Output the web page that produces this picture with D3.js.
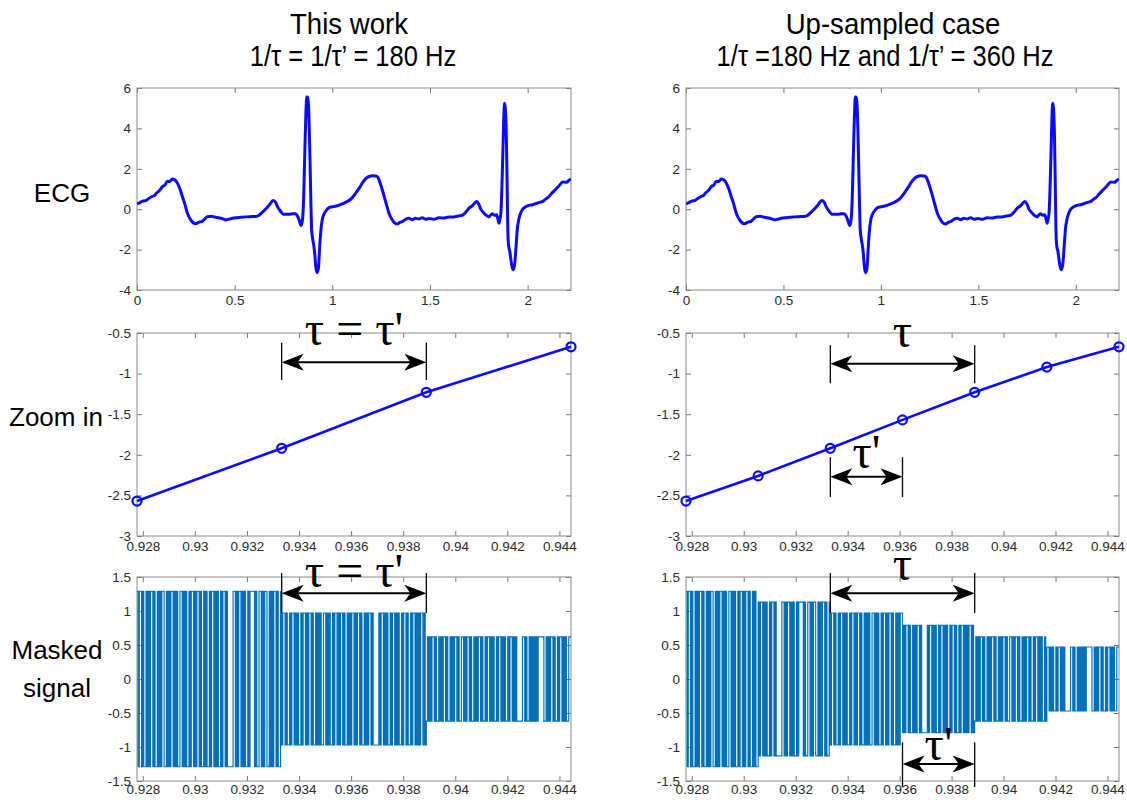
<!DOCTYPE html>
<html>
<head>
<meta charset="utf-8">
<script src="https://cdn.jsdelivr.net/npm/d3@7"></script>
<style>
  body { margin: 0; background: #fff; }
  svg { display: block; }
  .tick text { font-family: Arial, "Liberation Sans", sans-serif; font-size: 13.5px; fill: #2b2b2b; }
</style>
</head>
<body>
<svg id="chart" width="1127" height="802"></svg>
<script>
// ECG trace (time in s, amplitude)
const ecgTime = [0, 0.015, 0.03, 0.045, 0.06, 0.078, 0.09, 0.1, 0.115, 0.13, 0.143, 0.155, 0.168, 0.18, 0.195, 0.207, 0.22, 0.232, 0.245, 0.258, 0.275, 0.3, 0.318, 0.334, 0.35, 0.36, 0.38, 0.403, 0.43, 0.454, 0.48, 0.505, 0.53, 0.556, 0.58, 0.607, 0.625, 0.64, 0.66, 0.676, 0.698, 0.71, 0.718, 0.735, 0.749, 0.778, 0.8, 0.812, 0.822, 0.829, 0.841, 0.848, 0.852, 0.856, 0.86, 0.865, 0.869, 0.873, 0.877, 0.882, 0.886, 0.89, 0.894, 0.9, 0.906, 0.91, 0.915, 0.922, 0.929, 0.933, 0.937, 0.943, 0.949, 0.957, 0.966, 0.983, 1.0, 1.02, 1.034, 1.06, 1.085, 1.1, 1.12, 1.14, 1.154, 1.17, 1.188, 1.205, 1.222, 1.232, 1.239, 1.25, 1.265, 1.278, 1.29, 1.305, 1.316, 1.333, 1.345, 1.358, 1.375, 1.392, 1.41, 1.425, 1.444, 1.46, 1.48, 1.495, 1.52, 1.546, 1.57, 1.597, 1.62, 1.648, 1.665, 1.683, 1.7, 1.717, 1.739, 1.75, 1.76, 1.772, 1.785, 1.802, 1.81, 1.819, 1.83, 1.841, 1.847, 1.853, 1.858, 1.863, 1.868, 1.874, 1.878, 1.882, 1.886, 1.891, 1.895, 1.9, 1.904, 1.908, 1.913, 1.918, 1.927, 1.935, 1.941, 1.947, 1.955, 1.964, 1.975, 1.99, 2.01, 2.025, 2.04, 2.065, 2.08, 2.092, 2.105, 2.12, 2.14, 2.16, 2.18, 2.2, 2.21, 2.222];
const ecgValue = [0.27, 0.33, 0.4, 0.43, 0.53, 0.63, 0.68, 0.8, 0.92, 1.12, 1.2, 1.38, 1.37, 1.5, 1.45, 1.29, 1.0, 0.63, 0.25, -0.2, -0.53, -0.72, -0.64, -0.6, -0.45, -0.37, -0.35, -0.4, -0.45, -0.52, -0.47, -0.42, -0.4, -0.38, -0.37, -0.36, -0.3, -0.17, 0.02, 0.2, 0.43, 0.33, 0.15, -0.1, -0.25, -0.25, -0.22, -0.22, -0.35, -0.5, -0.81, -0.45, 0.2, 1.6, 3.1, 4.8, 5.55, 5.55, 5.3, 4.0, 2.3, 0.5, -1.0, -1.5, -1.85, -2.2, -2.8, -3.14, -2.9, -2.3, -1.6, -0.9, -0.5, -0.25, -0.1, 0.08, 0.12, 0.16, 0.2, 0.3, 0.43, 0.55, 0.8, 1.08, 1.3, 1.5, 1.62, 1.65, 1.64, 1.6, 1.45, 1.15, 0.65, 0.2, -0.2, -0.5, -0.65, -0.73, -0.65, -0.62, -0.5, -0.45, -0.52, -0.45, -0.48, -0.42, -0.5, -0.46, -0.5, -0.42, -0.44, -0.38, -0.38, -0.33, -0.3, -0.15, 0.05, 0.17, 0.38, 0.25, 0.0, -0.15, -0.28, -0.38, -0.3, -0.23, -0.3, -0.28, -0.45, -0.7, -0.5, -0.2, 1.0, 3.1, 4.6, 5.25, 5.0, 3.6, 1.2, -1.5, -1.9, -2.05, -2.4, -2.75, -3.0, -2.6, -1.8, -1.0, -0.5, -0.2, 0.0, 0.12, 0.2, 0.22, 0.27, 0.35, 0.4, 0.5, 0.58, 0.75, 0.95, 1.15, 1.35, 1.33, 1.42, 1.5];

// zoomed samples (1/tau = 180 Hz on the left, 360 Hz on the right)
const zoomTimeLeft = [0.927778, 0.933333, 0.938889, 0.944444];
const zoomValueLeft = [-2.57, -1.92, -1.23, -0.67];
const zoomTimeRight = [0.927778, 0.930556, 0.933333, 0.936111, 0.938889, 0.941667, 0.944444];
const zoomValueRight = [-2.57, -2.26, -1.92, -1.57, -1.23, -0.92, -0.67];

// masked signal: hold amplitude per sample, times a +/-1 chip sequence
const maskStart = 0.927778;
const maskEnd = 0.944444;
const maskAmpLeft = [1.29, 0.97, 0.62];
const maskAmpRight = [1.29, 1.13, 0.97, 0.79, 0.62, 0.47];
const chipRows = [
  "10110100101011010010101100101011",
  "01010011010100101101011010010100",
  "10110101001011010000011010110101",
  "00101111010011010110010101101001",
  "01101001011010100101101011010010",
  "10100110101001011010110100101011",
  "01011010010101101000001011010100",
  "10110101001011010010110101011010",
  "01010110100101011010010101101001",
  "10101101001010110100101101010010",
  "11010100101101010000011010010101",
  "01011111001010110100101101010011"
];

// ticks
const ecgTicksX = [0, 0.5, 1, 1.5, 2];
const ecgTicksY = [-4, -2, 0, 2, 4, 6];
const zoomTicksX = [0.928, 0.93, 0.932, 0.934, 0.936, 0.938, 0.94, 0.942, 0.944];
const zoomTicksY = [-3, -2.5, -2, -1.5, -1, -0.5];
const maskTicksY = [-1.5, -1, -0.5, 0, 0.5, 1, 1.5];

const svg = d3.select("#chart");
const fontSans = 'Arial, "Liberation Sans", sans-serif';
const fontSerif = '"Times New Roman", "Liberation Serif", serif';

const cols = [{ x0: 137, x1: 571 }, { x0: 686, x1: 1119 }];
const rows = [{ y0: 88, y1: 290, pad: 5 }, { y0: 333, y1: 536, pad: 5 }, { y0: 577, y1: 781, pad: 3 }];

let clipCount = 0;

function makeAxes(col, row, xDomain, yDomain, xTicks, yTicks) {
    const x = d3.scaleLinear().domain(xDomain).range([col.x0, col.x1]);
    const y = d3.scaleLinear().domain(yDomain).range([row.y1, row.y0]);
    const g = svg.append("g");

    const fmt = (d) => String(d);
    g.append("g")
        .attr("transform", `translate(0,${row.y1})`)
        .call(d3.axisBottom(x).tickValues(xTicks).tickFormat(fmt).tickSizeInner(-5).tickSizeOuter(0).tickPadding(row.pad));
    g.append("g")
        .attr("transform", `translate(0,${row.y0})`)
        .call(d3.axisTop(x).tickValues(xTicks).tickFormat("").tickSizeInner(-5).tickSizeOuter(0));
    g.append("g")
        .attr("transform", `translate(${col.x0},0)`)
        .call(d3.axisLeft(y).tickValues(yTicks).tickFormat(fmt).tickSizeInner(-5).tickSizeOuter(0).tickPadding(6));
    g.append("g")
        .attr("transform", `translate(${col.x1},0)`)
        .call(d3.axisRight(y).tickValues(yTicks).tickFormat("").tickSizeInner(-5).tickSizeOuter(0));

    g.selectAll(".domain").remove();
    g.selectAll(".tick line").attr("stroke", "#777").attr("stroke-width", 1);

    g.append("rect")
        .attr("x", col.x0).attr("y", row.y0)
        .attr("width", col.x1 - col.x0).attr("height", row.y1 - row.y0)
        .attr("fill", "none").attr("stroke", "#8a8a8a").attr("stroke-width", 1);

    const id = "clip" + (clipCount++);
    svg.append("clipPath").attr("id", id)
        .append("rect")
        .attr("x", col.x0).attr("y", row.y0 - 1)
        .attr("width", col.x1 - col.x0).attr("height", row.y1 - row.y0 + 2);

    return { x, y, clip: `url(#${id})` };
}

// ---- top row: ECG ----
const ecgData = ecgTime.map((t, i) => ({ t, v: ecgValue[i] }));
cols.forEach((col) => {
    const ax = makeAxes(col, rows[0], [0, 2.222], [-4, 6], ecgTicksX, ecgTicksY);
    svg.append("path")
        .datum(ecgData)
        .attr("clip-path", ax.clip)
        .attr("fill", "none")
        .attr("stroke", "#0a0aff")
        .attr("stroke-width", 3)
        .attr("stroke-linejoin", "round")
        .attr("d", d3.line().x((d) => ax.x(d.t)).y((d) => ax.y(d.v)).curve(d3.curveMonotoneX));
});

// ---- middle row: zoom in ----
function drawZoom(col, times, values) {
    const ax = makeAxes(col, rows[1], [maskStart, maskEnd], [-3, -0.5], zoomTicksX, zoomTicksY);
    const pts = times.map((t, i) => ({ t, v: values[i] }));
    svg.append("path")
        .datum(pts)
        .attr("fill", "none")
        .attr("stroke", "#0a0aff")
        .attr("stroke-width", 2.6)
        .attr("d", d3.line().x((d) => ax.x(d.t)).y((d) => ax.y(d.v)));
    svg.append("g").selectAll("circle")
        .data(pts)
        .join("circle")
        .attr("cx", (d) => ax.x(d.t))
        .attr("cy", (d) => ax.y(d.v))
        .attr("r", 4.5)
        .attr("fill", "none")
        .attr("stroke", "#0a0aff")
        .attr("stroke-width", 2.2);
    return ax;
}
const zl = drawZoom(cols[0], zoomTimeLeft, zoomValueLeft);
const zr = drawZoom(cols[1], zoomTimeRight, zoomValueRight);

// ---- bottom row: masked signal ----
const chips = chipRows.join("");
function drawMask(col, amps) {
    const ax = makeAxes(col, rows[2], [maskStart, maskEnd], [-1.5, 1.5], zoomTicksX, maskTicksY);
    const n = chips.length;
    const dt = (maskEnd - maskStart) / n;
    const pts = [];
    for (let i = 0; i < n; i++) {
        const a = amps[Math.floor(i * amps.length / n)];
        pts.push({ t: maskStart + i * dt, v: chips[i] === "1" ? a : -a });
    }
    pts.push({ t: maskEnd, v: pts[n - 1].v });
    svg.append("path")
        .datum(pts)
        .attr("clip-path", ax.clip)
        .attr("fill", "none")
        .attr("stroke", "#0070bb")
        .attr("stroke-width", 1.15)
        .attr("d", d3.line().x((d) => ax.x(d.t)).y((d) => ax.y(d.v)).curve(d3.curveStepAfter));
    return ax;
}
const ml = drawMask(cols[0], maskAmpLeft);
const mr = drawMask(cols[1], maskAmpRight);

// ---- tau annotations ----
function arrowHead(x, y, dir) {
    // dir = -1 points left, +1 points right; tip at (x, y)
    const L = 22, W = 8.5, notch = 6;
    return `M${x},${y} L${x - dir * L},${y - W} L${x - dir * (L - notch)},${y} L${x - dir * L},${y + W} Z`;
}
function bracket(ax, tA, tB, vTop, vBot, vArrow, label, vText) {
    const xa = ax.x(tA), xb = ax.x(tB);
    const g = svg.append("g");
    [xa, xb].forEach((xx) => {
        g.append("line")
            .attr("x1", xx).attr("x2", xx)
            .attr("y1", ax.y(vTop)).attr("y2", ax.y(vBot))
            .attr("stroke", "#000").attr("stroke-width", 1.3);
    });
    const ya = ax.y(vArrow);
    g.append("line")
        .attr("x1", xa + 10).attr("x2", xb - 10)
        .attr("y1", ya).attr("y2", ya)
        .attr("stroke", "#000").attr("stroke-width", 2);
    g.append("path").attr("d", arrowHead(xa, ya, -1)).attr("fill", "#000");
    g.append("path").attr("d", arrowHead(xb, ya, 1)).attr("fill", "#000");
    g.append("text")
        .attr("x", (xa + xb) / 2)
        .attr("y", ax.y(vText))
        .attr("text-anchor", "middle")
        .style("font-family", fontSerif)
        .style("font-size", "48px")
        .attr("fill", "#000")
        .text(label);
}
const tA = 0.933333, tB = 0.938889, tHalf = 0.936111;
bracket(zl, tA, tB, -0.62, -1.08, -0.86, "\u03c4 = \u03c4'", -0.65);
bracket(zr, tA, tB, -0.65, -1.12, -0.88, "\u03c4", -0.67);
bracket(zr, tA, tHalf, -2.03, -2.52, -2.27, "\u03c4'", -2.16);
bracket(ml, tA, tB, 1.56, 0.97, 1.26, "\u03c4 = \u03c4'", 1.35);
bracket(mr, tA, tB, 1.56, 0.97, 1.26, "\u03c4", 1.46);
bracket(mr, tHalf, tB, -0.93, -1.59, -1.25, "\u03c4'", -1.19);

// ---- titles and row labels ----
function narrowText(cx, y, str, size, sx) {
    svg.append("g")
        .attr("transform", `translate(${cx},${y}) scale(${sx},1)`)
        .append("text")
        .attr("text-anchor", "middle")
        .style("font-family", fontSans)
        .style("font-size", size + "px")
        .attr("fill", "#000")
        .text(str);
}
narrowText(349, 34, "This work", 30, 0.92);
narrowText(353, 66, "1/\u03c4 = 1/\u03c4\u2019 = 180 Hz", 29, 0.88);
narrowText(893, 34, "Up-sampled case", 30, 0.92);
narrowText(885, 66, "1/\u03c4 =180 Hz and 1/\u03c4\u2019 = 360 Hz", 29, 0.88);

const rowLabels = [
    { text: "ECG", x: 62, y: 202 },
    { text: "Zoom in", x: 56, y: 426 },
    { text: "Masked", x: 57, y: 659 },
    { text: "signal", x: 57, y: 697 }
];
svg.append("g").selectAll("text")
    .data(rowLabels)
    .join("text")
    .attr("x", (d) => d.x)
    .attr("y", (d) => d.y)
    .attr("text-anchor", "middle")
    .style("font-family", fontSans)
    .style("font-size", "26px")
    .attr("fill", "#000")
    .text((d) => d.text);
</script>
</body>
</html>
